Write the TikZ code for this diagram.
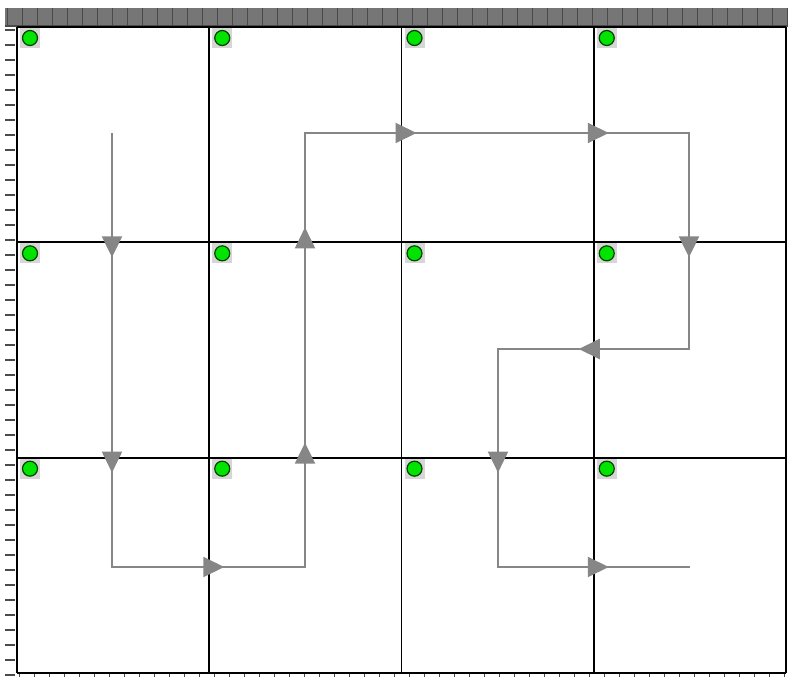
\documentclass[tikz,border=0pt]{standalone}
\usetikzlibrary{arrows.meta,positioning,calc}
\definecolor{barGray}{HTML}{767676}
\definecolor{tickGray}{HTML}{4A4A4A}
\definecolor{flowGray}{HTML}{868686}
\definecolor{dotGreen}{HTML}{00E400}

\begin{document}
\begin{tikzpicture}[x=1pt,y=-1pt,
    gridline/.style={black, line width=1.9pt},
    flow/.style={flowGray, line width=2pt},
    flowtip/.style={flow, -{Triangle[length=21pt,width=20pt]}, shorten >=-15pt},
    pinbg/.style={fill=black!16, minimum size=20pt, inner sep=0pt},
    pin/.style={circle, draw=black!75!green, line width=1.2pt, fill=dotGreen, minimum size=15pt, inner sep=0pt}]
  \useasboundingbox (0,0) rectangle (788,677);

  % Top ruler
  \fill[barGray] (5,8) rectangle (788,27);
  \foreach \t in {0,...,52}
    \draw[tickGray, line width=1pt] ({7+15*\t},8) -- ({7+15*\t},27);
  \draw[tickGray, line width=1.4pt] (5,26) -- (788,26);

  % Left and bottom rulers
  \foreach \t in {0,...,43}
    \draw[tickGray, line width=1.2pt] (5,{30+15*\t}) -- (15,{30+15*\t});
  \foreach \t in {0,...,51}
    \draw[tickGray, line width=0.8pt] ({19+15*\t},673) -- ({19+15*\t},677);

  % Grid points
  \foreach \i in {0,...,4}
    \foreach \j in {0,...,3}
      \coordinate (g-\i-\j) at ({17+192.25*\i},{27+215.33*\j});

  % Grid lines
  \foreach \i in {0,...,4}
    \draw[gridline] (g-\i-0) -- (g-\i-3);
  \foreach \j in {0,...,3}
    \draw[gridline] (g-0-\j) -- (g-4-\j);

  % Pins in the cell corners
  \foreach \i in {0,...,3}
    \foreach \j in {0,1,2} {
      \node[pinbg] (bg-\i-\j) at ($(g-\i-\j)+(13,11)$) {};
      \node[pin] (pin-\i-\j) at (bg-\i-\j) {};
    }

  % Route
  \coordinate (r0) at (112,133);
  \coordinate (r1) at (112,567);
  \coordinate (r2) at (305,567);
  \coordinate (r3) at (305,133);
  \coordinate (r4) at (689,133);
  \coordinate (r5) at (689,349);
  \coordinate (r6) at (498,349);
  \coordinate (r7) at (498,567);
  \coordinate (r8) at (690,567);
  \draw[flow] (r0) -- (r1) -- (r2) -- (r3) -- (r4) -- (r5) -- (r6) -- (r7) -- (r8);

  % Direction marks where the route crosses the grid
  \draw[flowtip] (r0) -- (r0 |- g-0-1);
  \draw[flowtip] (r0) -- (r0 |- g-0-2);
  \draw[flowtip] (r1) -- (r1 -| g-1-0);
  \draw[flowtip] (r2) -- (r2 |- g-0-2);
  \draw[flowtip] (r2) -- (r2 |- g-0-1);
  \draw[flowtip] (r3) -- (r3 -| g-2-0);
  \draw[flowtip] (r3) -- (r3 -| g-3-0);
  \draw[flowtip] (r4) -- (r4 |- g-0-1);
  \draw[flowtip] (r5) -- (r5 -| g-3-0);
  \draw[flowtip] (r6) -- (r6 |- g-0-2);
  \draw[flowtip] (r7) -- (r7 -| g-3-0);
\end{tikzpicture}
\end{document}
